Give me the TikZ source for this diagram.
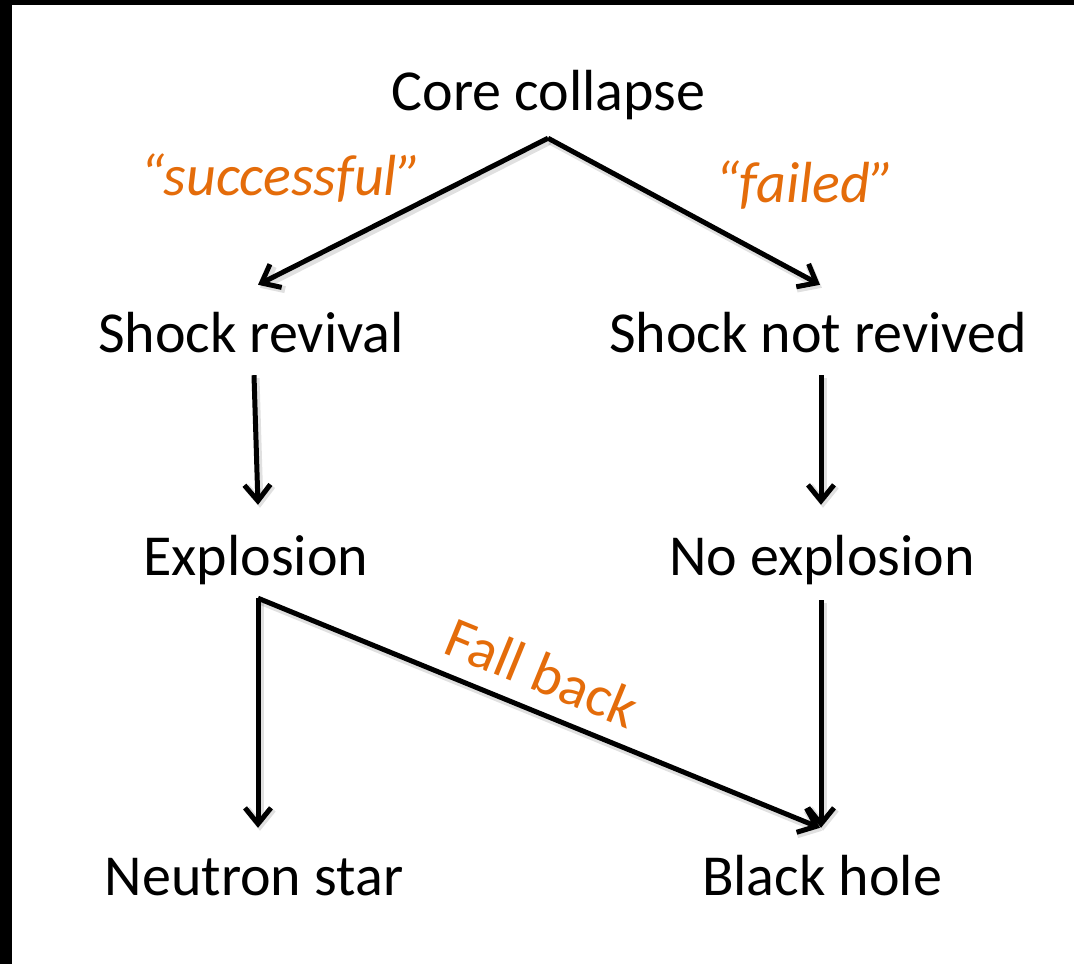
\documentclass[tikz,border=0pt]{standalone}
\usepackage{fontspec}
\setmainfont{Carlito}
\usetikzlibrary{arrows.meta}
\definecolor{offorange}{HTML}{E46C0A}
\tikzset{
  lbl/.style={font=\fontsize{58}{70}\selectfont, inner sep=0pt, anchor=base, text height=43pt, text depth=14pt},
  olbl/.style={font=\fontsize{58}{70}\selectfont\itshape, text=offorange, inner sep=0pt, anchor=base},
  arr/.style={line width=5pt, -{Straight Barb[length=16pt,width=26pt]},
    preaction={draw=black, opacity=0.12, line width=7pt, transform canvas={shift={(2pt,-3pt)}}}},
}
\begin{document}
\begin{tikzpicture}[x=1pt,y=-1pt]
\useasboundingbox (0,0) rectangle (1074,964);
\fill[white] (0,0) rectangle (1074,964);
\fill[black] (0,0) rectangle (1074,5);
\fill[black] (0,0) rectangle (12,964);

\node[lbl] (cc)  at (548.5,110) {Core collapse};
\node[lbl] (sr)  at (251,352) {Shock revival};
\node[lbl] (snr) at (818,352) {Shock not revived};
\node[lbl] (ex)  at (256,575) {Explosion};
\node[lbl] (ne)  at (822,575) {No explosion};
\node[lbl] (ns)  at (254,895) {Neutron star};
\node[lbl] (bh)  at (822,895) {Black hole};

\node[olbl] (succ) at (281,195) {“successful”};
\node[olbl] (fail) at (805,202) {“failed”};

\draw[arr] ([yshift=-14pt,xshift=-0.5pt]cc.south) -- ([xshift=7pt,yshift=24pt]sr.north);
\draw[arr] ([yshift=-14pt,xshift=-0.5pt]cc.south) -- ([xshift=2pt,yshift=24pt]snr.north);
\draw[arr] ([xshift=3pt,yshift=-9pt]sr.south) -- ([xshift=2pt,yshift=27pt]ex.north);
\draw[arr] ([xshift=3pt,yshift=-9pt]snr.south) -- ([xshift=-1pt,yshift=27pt]ne.north);
\draw[arr] ([xshift=2pt,yshift=-9pt]ex.south) -- ([xshift=4pt,yshift=24pt]ns.north);
\draw[arr] ([xshift=2pt,yshift=-9pt]ex.south) -- ([xshift=-2pt,yshift=24pt]bh.north)
  node[pos=0.48, sloped, above=16pt, font=\fontsize{58}{70}\selectfont, text=offorange, inner sep=0pt, anchor=south] (fb) {Fall back};
\draw[arr] ([xshift=-1pt,yshift=-11pt]ne.south) -- ([xshift=-1pt,yshift=24pt]bh.north);
\end{tikzpicture}
\end{document}
